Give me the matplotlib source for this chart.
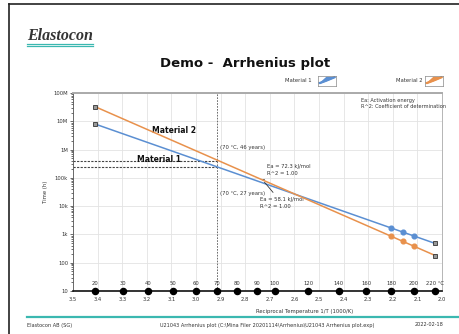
import numpy as np
import matplotlib
matplotlib.use("Agg")
import matplotlib.pyplot as plt
from matplotlib.ticker import FixedLocator, NullFormatter, LogLocator

# temperature scale shown along the bottom (deg C)
scale_temps = [20, 30, 40, 50, 60, 70, 80, 90, 100, 120, 140, 160, 180, 200, 220]
# measured lifetimes (h) at the test temperatures
test_temps = [180, 190, 200]
mat1_hours = [1690, 1210, 877]
mat2_hours = [863, 568, 381]
# extrapolation range
fit_temps = [20, 220]
ref_temp = 70
mat1_ref_hours = 236700   # 27 years
mat2_ref_hours = 403200   # 46 years
y_ticks = [10, 100, 1e3, 1e4, 1e5, 1e6, 1e7, 1e8]
y_labels = ['10', '100', '1k', '10k', '100k', '1M', '10M', '100M']
x_ticks = [3.5, 3.4, 3.3, 3.2, 3.1, 3.0, 2.9, 2.8, 2.7, 2.6, 2.5, 2.4, 2.3, 2.2, 2.1, 2.0]

blue = '#5b8fd2'
orange = '#e8914c'
teal = '#3bb8b0'


def recip(tc):
    return 1000.0 / (np.asarray(tc, dtype=float) + 273.15)


fig = plt.figure(figsize=(4.59, 3.34), dpi=100)
W, H = 459, 334

# page frame
fig.add_artist(plt.Line2D([9 / W, 9 / W], [0, 1 - 4 / H], color='#222', lw=1.2))
fig.add_artist(plt.Line2D([9 / W, 1], [1 - 4 / H, 1 - 4 / H], color='#222', lw=1.2))

# logo
fig.text(27 / W, 1 - 40 / H, 'Elastocon', family='Liberation Serif', style='italic',
         fontweight='bold', fontsize=11.5, color='#333', va='baseline')
fig.add_artist(plt.Line2D([27 / W, 93 / W], [1 - 43.5 / H] * 2, color=teal, lw=0.9))
fig.add_artist(plt.Line2D([27 / W, 93 / W], [1 - 46 / H] * 2, color=teal, lw=0.9))

fig.text(245 / W, 1 - 63 / H, 'Demo -  Arrhenius plot', ha='center', va='center',
         fontsize=9.5, fontweight='bold', color='#111')

ax = fig.add_axes([73 / W, 1 - 291 / H, (442 - 73) / W, (291 - 93) / H])
ax.set_yscale('log')
ax.set_xlim(3.5, 2.0)
ax.set_ylim(10, 1e8)

# fits
xd = recip(test_temps)
xf = recip(fit_temps)
xr = recip(ref_temp)
for hours, col, z in [(mat1_hours, blue, 3), (mat2_hours, orange, 4)]:
    p = np.polyfit(xd, np.log10(hours), 1)
    ax.plot(xf, 10 ** np.polyval(p, xf), color=col, lw=1.1, zorder=z)
    ax.plot(xd, hours, 'o', color=col, ms=3.4, zorder=z + 1)
    ax.plot(xf, 10 ** np.polyval(p, xf), 's', ms=2.4, mfc='#999', mec='#333', mew=0.6,
            ls='none', zorder=z + 2)

# reference temperature lines
ax.axvline(xr, color='#555', lw=0.6, ls=(0, (2, 1.5)), zorder=2)
for h in [mat1_ref_hours, mat2_ref_hours]:
    ax.plot([3.5, xr], [h, h], color='#444', lw=0.8, ls=(0, (2, 1.2)), zorder=2)

ax.text(3.088, 3.9e6, 'Material 2', fontsize=5.5, fontweight='bold', ha='center', color='#111')
ax.text(3.149, 3.5e5, 'Material 1', fontsize=5.5, fontweight='bold', ha='center', color='#111')
ax.text(xr - 0.01, 4.4e5 * 2.2, '(70 \u00b0C, 46 years)', fontsize=3.8, color='#333', va='bottom')
ax.text(xr - 0.01, 2.8e4, '(70 \u00b0C, 27 years)', fontsize=3.8, color='#333', va='center')

xa = 2.729
p2 = np.polyfit(xd, np.log10(mat2_hours), 1)
ya = 10 ** np.polyval(p2, xa)
ax.annotate('Ea = 72.3 kJ/mol\nR^2 = 1.00', xy=(xa, ya), xytext=(2.71, 1.9e5),
            fontsize=3.8, color='#333', va='center', linespacing=1.3,
            arrowprops=dict(arrowstyle='-', color='#333', lw=0.6))
ax.annotate('Ea = 58.1 kJ/mol\nR^2 = 1.00', xy=(xa, ya), xytext=(2.74, 1.3e4),
            fontsize=3.8, color='#333', va='center', linespacing=1.3,
            arrowprops=dict(arrowstyle='-', color='#333', lw=0.6))

ax.text(0.78, 0.975, 'Ea: Activation energy\nR^2: Coefficient of determination',
        transform=ax.transAxes, fontsize=3.6, color='#333', va='top', linespacing=1.2)

# temperature scale on the x axis
xs = recip(scale_temps)
ax.plot(xs, [10] * len(xs), 'o', color='black', ms=4.4, clip_on=False, zorder=6)
for t, x in zip(scale_temps, xs):
    lab = f'{t} \u00b0C' if t == scale_temps[-1] else str(t)
    ax.text(x, 15, lab, fontsize=3.8, color='#333', ha='center', va='bottom')

# axes styling
ax.xaxis.set_major_locator(FixedLocator(x_ticks))
ax.set_xticklabels([f'{v:.1f}' for v in x_ticks])
ax.yaxis.set_major_locator(FixedLocator(y_ticks))
ax.set_yticklabels(y_labels)
ax.yaxis.set_minor_locator(LogLocator(base=10, subs=np.arange(2, 10)))
ax.yaxis.set_minor_formatter(NullFormatter())
ax.tick_params(axis='both', labelsize=3.8, colors='#333', length=2, width=0.5, pad=1.5)
ax.tick_params(axis='y', which='minor', length=1.2, width=0.4)
ax.tick_params(axis='x', length=0, pad=4)
ax.grid(True, which='major', color='#e3e3e3', lw=0.6)
ax.set_axisbelow(True)
for s in ['top', 'right']:
    ax.spines[s].set_color('#aaa')
ax.spines['top'].set_linewidth(1.4)
ax.spines['right'].set_linewidth(0.6)
ax.spines['left'].set_color('#555')
ax.spines['left'].set_linewidth(0.6)
ax.spines['bottom'].set_color('#111')
ax.spines['bottom'].set_linewidth(1.2)
ax.set_ylabel('Time (h)', fontsize=3.8, color='#333', labelpad=4)
ax.set_xlabel('Reciprocal Temperature 1/T (1000/K)', fontsize=3.8, color='#333')
ax.xaxis.set_label_coords((305 - 73) / (442 - 73), -0.09)

# legend items above the plot
for name, col, xt, xi in [('Material 1', blue, 285, 318), ('Material 2', orange, 396, 425)]:
    fig.text(xt / W, 1 - 80 / H, name, fontsize=3.8, color='#333', va='center')
    lax = fig.add_axes([xi / W, 1 - 86 / H, 18 / W, 10 / H])
    lax.set_xlim(0, 1)
    lax.set_ylim(0, 1)
    lax.set_xticks([])
    lax.set_yticks([])
    lax.fill_between([0.08, 0.45, 0.92], [0.3, 0.55, 0.9], [0.3, 0.9, 0.9], color=col)
    lax.plot([0.08, 0.45, 0.92], [0.3, 0.55, 0.9], color=col, lw=1.4)
    for s in lax.spines.values():
        s.set_color('#888')
        s.set_linewidth(0.5)

# footer
fig.add_artist(plt.Line2D([27 / W, 1], [1 - 317 / H] * 2, color=teal, lw=1.6))
fig.text(27 / W, 1 - 325 / H, 'Elastocon AB (SG)', fontsize=3.6, color='#333', va='center')
fig.text(160 / W, 1 - 325 / H,
         'U21043 Arrhenius plot (C:\\Mina Filer 20201114\\Arrhenius\\U21043 Arrhenius plot.exp)',
         fontsize=3.6, color='#333', va='center')
fig.text(415 / W, 1 - 325 / H, '2022-02-18', fontsize=3.6, color='#333', va='center')

fig.savefig('out.png', dpi=100)
